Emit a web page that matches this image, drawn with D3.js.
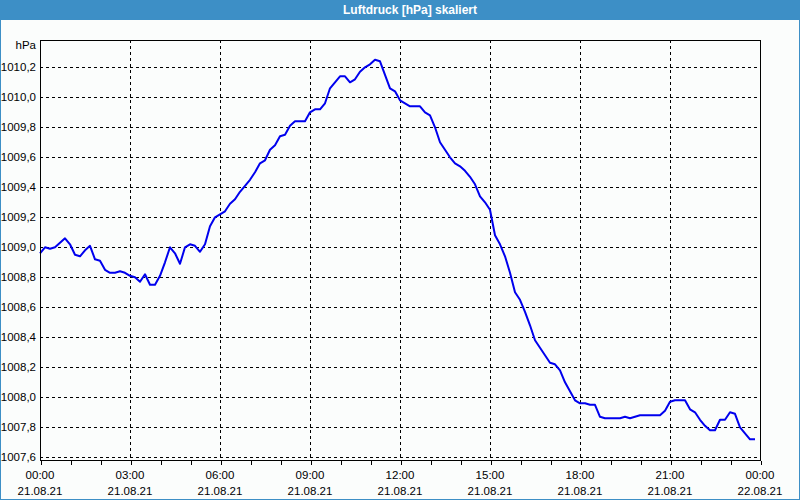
<!DOCTYPE html>
<html>
<head>
<meta charset="utf-8">
<script src="https://cdn.jsdelivr.net/npm/d3@7"></script>
<style>
  html, body { margin: 0; padding: 0; background: #fbfdfc; }
  svg { display: block; }
</style>
</head>
<body>
<svg id="chart" width="800" height="500"></svg>
<script>
// ---- data ----
const chartTitle = "Luftdruck [hPa] skaliert";
const unitLabel = "hPa";
const startTime = "2021-08-21T00:00:00";
const endTime = "2021-08-22T00:00:00";
const stepMinutes = 10;
// pressure readings every 10 minutes from 00:00, 21.08.21
const pressure = [
  1008.96, 1009.00, 1008.99, 1009.00, 1009.03, 1009.06, 1009.02, 1008.95, 1008.94, 1008.98,
  1009.01, 1008.92, 1008.91, 1008.85, 1008.83, 1008.83, 1008.84, 1008.83, 1008.81, 1008.80,
  1008.77, 1008.82, 1008.75, 1008.75, 1008.81, 1008.90, 1009.00, 1008.96, 1008.89, 1009.00,
  1009.02, 1009.01, 1008.97, 1009.02, 1009.14, 1009.20, 1009.22, 1009.24, 1009.29, 1009.32,
  1009.37, 1009.41, 1009.45, 1009.50, 1009.56, 1009.58, 1009.65, 1009.68, 1009.74, 1009.75,
  1009.81, 1009.84, 1009.84, 1009.84, 1009.90, 1009.92, 1009.92, 1009.96, 1010.06, 1010.10,
  1010.14, 1010.14, 1010.10, 1010.12, 1010.17, 1010.20, 1010.22, 1010.25, 1010.24, 1010.15,
  1010.06, 1010.04, 1009.98, 1009.96, 1009.94, 1009.94, 1009.94, 1009.90, 1009.88, 1009.80,
  1009.70, 1009.65, 1009.60, 1009.56, 1009.54, 1009.51, 1009.47, 1009.42, 1009.34, 1009.30,
  1009.25, 1009.08, 1009.02, 1008.94, 1008.83, 1008.70, 1008.65, 1008.57, 1008.48, 1008.38,
  1008.33, 1008.28, 1008.23, 1008.22, 1008.18, 1008.10, 1008.04, 1007.98, 1007.96, 1007.96,
  1007.95, 1007.95, 1007.87, 1007.86, 1007.86, 1007.86, 1007.86, 1007.87, 1007.86, 1007.87,
  1007.88, 1007.88, 1007.88, 1007.88, 1007.88, 1007.91, 1007.97, 1007.98, 1007.98, 1007.98,
  1007.92, 1007.90, 1007.85, 1007.81, 1007.78, 1007.78, 1007.85, 1007.85, 1007.90, 1007.89,
  1007.80, 1007.76, 1007.72, 1007.72
];
const yTicks = [1007.6, 1007.8, 1008.0, 1008.2, 1008.4, 1008.6, 1008.8, 1009.0, 1009.2, 1009.4, 1009.6, 1009.8, 1010.0, 1010.2];
const yDomain = [1007.582, 1010.382];
const xTickHours = [0, 3, 6, 9, 12, 15, 18, 21, 24];

// ---- layout ----
const W = 800, H = 500;
const M = { left: 40, right: 40, top: 40, bottom: 40 };
const titleH = 20;
const frameColor = "#3d8fc6";
const bg = "#fbfdfc";

const svg = d3.select("#chart");
const t0 = new Date(startTime), t1 = new Date(endTime);
const data = pressure.map((v, i) => ({ t: d3.timeMinute.offset(t0, i * stepMinutes), v }));

const x = d3.scaleTime().domain([t0, t1]).range([M.left, W - M.right]);
const y = d3.scaleLinear().domain(yDomain).range([H - M.bottom, M.top]);

// background + frame
svg.append("rect").attr("x", 0).attr("y", 0).attr("width", W).attr("height", H).attr("fill", bg);
svg.append("rect").attr("x", 0.5).attr("y", 0.5).attr("width", W - 1).attr("height", H - 1)
  .attr("fill", "none").attr("stroke", frameColor);
svg.append("rect").attr("x", 0).attr("y", 0).attr("width", W).attr("height", titleH).attr("fill", frameColor);
svg.append("text").attr("x", W / 2 + 10).attr("y", 14).attr("text-anchor", "middle")
  .attr("fill", "#fff").attr("font-family", "Liberation Sans, Arial, sans-serif")
  .attr("font-weight", "bold").attr("font-size", 12).text(chartTitle);

const font = "Liberation Sans, Arial, sans-serif";

// gridlines
const grid = svg.append("g").attr("stroke", "#000").attr("stroke-width", 1)
  .attr("stroke-dasharray", "3,3").attr("shape-rendering", "crispEdges");
grid.selectAll("line.h").data(yTicks).enter().append("line")
  .attr("x1", M.left).attr("x2", W - M.right)
  .attr("y1", d => Math.round(y(d)) + 0.5).attr("y2", d => Math.round(y(d)) + 0.5);
const vHours = xTickHours.filter(h => h > 0 && h < 24);
grid.selectAll("line.v").data(vHours).enter().append("line")
  .attr("x1", h => Math.round(x(d3.timeHour.offset(t0, h))) + 0.5)
  .attr("x2", h => Math.round(x(d3.timeHour.offset(t0, h))) + 0.5)
  .attr("y1", M.top).attr("y2", H - M.bottom);

// line
const line = d3.line().x(d => x(d.t)).y(d => y(d.v));
svg.append("path").datum(data).attr("d", line)
  .attr("fill", "none").attr("stroke", "#0000ee").attr("stroke-width", 2)
  .attr("stroke-linejoin", "round");

// plot border (left, top, right, bottom)
svg.append("rect").attr("x", M.left + 0.5).attr("y", M.top + 0.5)
  .attr("width", W - M.left - M.right).attr("height", H - M.top - M.bottom)
  .attr("fill", "none").attr("stroke", "#000").attr("shape-rendering", "crispEdges");

// x axis
const xAxis = d3.axisBottom(x)
  .ticks(d3.timeHour.every(1))
  .tickSize(4)
  .tickFormat("");
const gx = svg.append("g").attr("transform", `translate(0.5,${H - M.bottom + 0.5})`).call(xAxis);
gx.select(".domain").remove();
gx.selectAll("line").attr("stroke", "#000").attr("shape-rendering", "crispEdges");

const fmtTime = d3.timeFormat("%H:%M");
const fmtDate = d3.timeFormat("%d.%m.%y");
const xl = svg.append("g").attr("font-family", font).attr("font-size", 11.5).attr("fill", "#000")
  .attr("text-anchor", "middle");
xTickHours.forEach(h => {
  const d = d3.timeHour.offset(t0, h);
  xl.append("text").attr("x", x(d)).attr("y", H - M.bottom + 19).text(fmtTime(d));
  xl.append("text").attr("x", x(d)).attr("y", H - M.bottom + 35).text(fmtDate(d));
});

// y axis labels
const yAxis = d3.axisLeft(y).tickValues(yTicks).tickSize(0).tickPadding(4)
  .tickFormat(d => d3.format(".1f")(d).replace(".", ","));
const gy = svg.append("g").attr("transform", `translate(${M.left},0)`).call(yAxis);
gy.select(".domain").remove();
gy.selectAll("text").attr("font-family", font).attr("font-size", 11.5).attr("fill", "#000");

svg.append("text").attr("x", M.left - 4).attr("y", M.top + 9).attr("text-anchor", "end")
  .attr("font-family", font).attr("font-size", 11.5).attr("fill", "#000").text(unitLabel);
</script>
</body>
</html>
